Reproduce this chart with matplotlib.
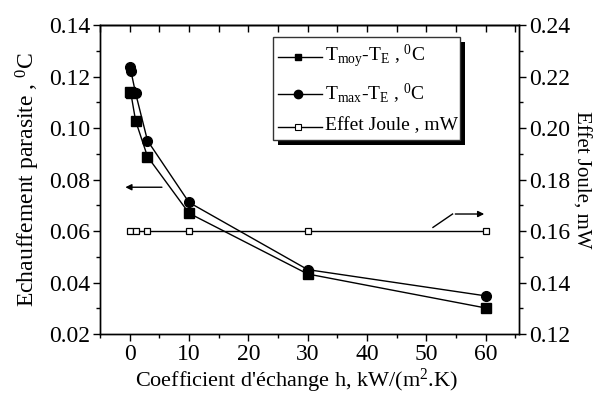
import matplotlib
matplotlib.use('Agg')
from matplotlib import pyplot as plt
from matplotlib.ticker import MultipleLocator
from matplotlib.patches import Rectangle
from matplotlib.lines import Line2D

plt.rcParams['font.family'] = ['Liberation Serif', 'DejaVu Serif']
plt.rcParams['mathtext.fontset'] = 'custom'
plt.rcParams['mathtext.rm'] = 'Liberation Serif'
plt.rcParams['mathtext.it'] = 'Liberation Serif:italic'

# données
h_temp = [0, 0.2, 1, 3, 10, 30, 60]
t_moy = [0.1140, 0.1135, 0.1028, 0.0889, 0.0669, 0.0433, 0.0301]
t_max = [0.1238, 0.1222, 0.1135, 0.0951, 0.0711, 0.0450, 0.0348]
h_joule = [0, 1, 3, 10, 30, 60]
joule = [0.16, 0.16, 0.16, 0.16, 0.16, 0.16]
labels = [r'T$_{\rm moy}$-T$_{\rm E}$ , $^0$C',
          r'T$_{\rm max}$-T$_{\rm E}$ , $^0$C',
          'Effet Joule , mW']

fig = plt.figure(figsize=(6.05, 3.99), dpi=100)
ax = fig.add_axes([0.1653, 0.1629, 0.6926, 0.7744])
ax2 = ax.twinx()

ax.plot(h_temp, t_moy, c='k', lw=1, marker='s', ms=6.5)
ax.plot(h_temp, t_max, c='k', lw=1, marker='o', ms=7)
ax2.plot(h_joule, joule, c='k', lw=1, marker='s', ms=5, mfc='white', mew=0.9)

ax.set_xlim(-5, 65.6)
ax.set_ylim(0.02, 0.14)
ax2.set_ylim(0.12, 0.24)

ax.xaxis.set_major_locator(MultipleLocator(10))
ax.xaxis.set_minor_locator(MultipleLocator(5))
ax.yaxis.set_major_locator(MultipleLocator(0.02))
ax.yaxis.set_minor_locator(MultipleLocator(0.01))
ax2.yaxis.set_major_locator(MultipleLocator(0.02))
ax2.yaxis.set_minor_locator(MultipleLocator(0.01))
ax.yaxis.set_major_formatter(plt.FormatStrFormatter('%.2f'))
ax2.yaxis.set_major_formatter(plt.FormatStrFormatter('%.2f'))

ax.tick_params(axis='both', which='major', labelsize=17, direction='out', length=5, width=1, pad=2)
ax.tick_params(axis='both', which='minor', direction='out', length=3, width=1)
ax2.tick_params(axis='y', which='major', labelsize=17, direction='out', length=5, width=1, pad=2)
ax2.tick_params(axis='y', which='minor', direction='out', length=3, width=1)

# graduations du haut vers l'intérieur
sec = ax.secondary_xaxis('top')
sec.xaxis.set_major_locator(MultipleLocator(5))
sec.tick_params(axis='x', which='major', direction='in', length=5, width=1, labeltop=False)
sec.spines['top'].set_linewidth(1)

for a in (ax, ax2):
    for s in a.spines.values():
        s.set_linewidth(1)

ax.set_xlabel(r"Coefficient d'échange h, kW/(m$^2$.K)", fontsize=16)
ax.xaxis.set_label_coords(0.468, -0.105)
ax.set_ylabel(r'Echauffement parasite , $^0$C', fontsize=17, labelpad=5)
ax2.set_ylabel('Effet Joule, mW', fontsize=15, rotation=-90, labelpad=15)

# flèches
ax.annotate('', xy=(-1.2, 0.077), xytext=(5.9, 0.077),
            arrowprops=dict(arrowstyle='-|>', color='k', lw=1, mutation_scale=9))
ax.plot([51.1, 54.4], [0.0614, 0.0666], c='k', lw=1)
ax.annotate('', xy=(60.2, 0.0666), xytext=(54.4, 0.0666),
            arrowprops=dict(arrowstyle='-|>', color='k', lw=1, mutation_scale=9))

# légende dessinée à la main (cadre + ombre)
tr = ax2.transAxes
ax2.add_patch(Rectangle((0.4255, 0.6116), 0.4457, 0.3343, transform=tr,
                        facecolor='k', edgecolor='none', zorder=9, clip_on=False))
ax2.add_patch(Rectangle((0.4136, 0.6278), 0.4456, 0.3343, transform=tr,
                        facecolor='white', edgecolor='#333333', lw=1, zorder=10, clip_on=False))
row_y = [0.8974, 0.7767, 0.6709]
text_y = [0.8812, 0.7573, 0.6602]
styles = [dict(marker='s', ms=5), dict(marker='o', ms=6), dict(marker='s', ms=4, mfc='white', mew=0.8)]
for yl, yt, lab, st in zip(row_y, text_y, labels, styles):
    ax2.add_line(Line2D([0.4248, 0.5291], [yl, yl], transform=tr, c='k', lw=1, zorder=11, clip_on=False))
    ax2.add_line(Line2D([0.4733], [yl], transform=tr, c='k', zorder=12, clip_on=False, **st))
    ax2.text(0.5370, yt, lab, transform=tr, fontsize=14, va='baseline', ha='left', zorder=12)

fig.savefig('out.png', dpi=100)
